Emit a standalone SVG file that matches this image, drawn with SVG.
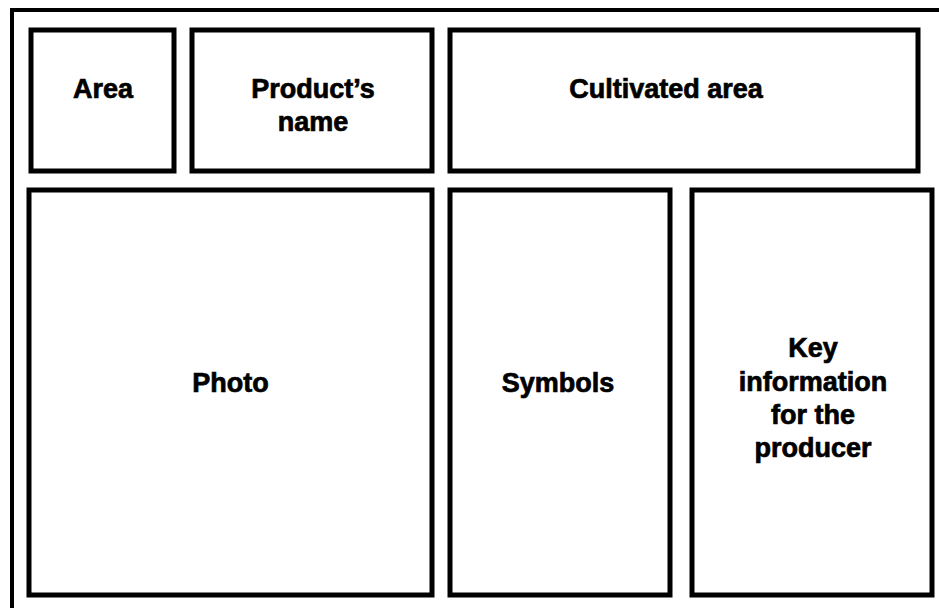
<svg xmlns="http://www.w3.org/2000/svg" width="939" height="608" viewBox="0 0 939 608">
  <style>
    .box { fill: #ffffff; stroke: #000000; stroke-width: 5; }
    .frame { fill: none; stroke: #000000; stroke-width: 4; }
    .lbl { font-family: "Liberation Sans", Arial, sans-serif; font-weight: bold; font-size: 27px; fill: #000000; stroke: #000000; stroke-width: 0.7; text-anchor: middle; }
  </style>
  <rect x="0" y="0" width="939" height="608" fill="#ffffff"/>
  <!-- outer sheet frame, running off the right and bottom edges -->
  <path class="frame" d="M12,608 V10 H939"/>

  <g id="area">
    <rect class="box" x="31" y="30" width="143" height="141"/>
    <text class="lbl" x="103" y="98">Area</text>
  </g>
  <g id="product-name">
    <rect class="box" x="192" y="30" width="240" height="141"/>
    <text class="lbl" x="313" y="98">Product’s</text>
    <text class="lbl" x="313" y="131">name</text>
  </g>
  <g id="cultivated-area">
    <rect class="box" x="450" y="30" width="468" height="141"/>
    <text class="lbl" x="666" y="98">Cultivated area</text>
  </g>
  <g id="photo">
    <rect class="box" x="29" y="190" width="403" height="405"/>
    <text class="lbl" x="230.5" y="392">Photo</text>
  </g>
  <g id="symbols">
    <rect class="box" x="450" y="190" width="220" height="405"/>
    <text class="lbl" x="558" y="392">Symbols</text>
  </g>
  <g id="key-information">
    <rect class="box" x="692" y="190" width="240" height="405"/>
    <text class="lbl" x="813" y="357">Key</text>
    <text class="lbl" x="813" y="391">information</text>
    <text class="lbl" x="813" y="424">for the</text>
    <text class="lbl" x="813" y="457">producer</text>
  </g>
  <g id="connectors"/>
</svg>
